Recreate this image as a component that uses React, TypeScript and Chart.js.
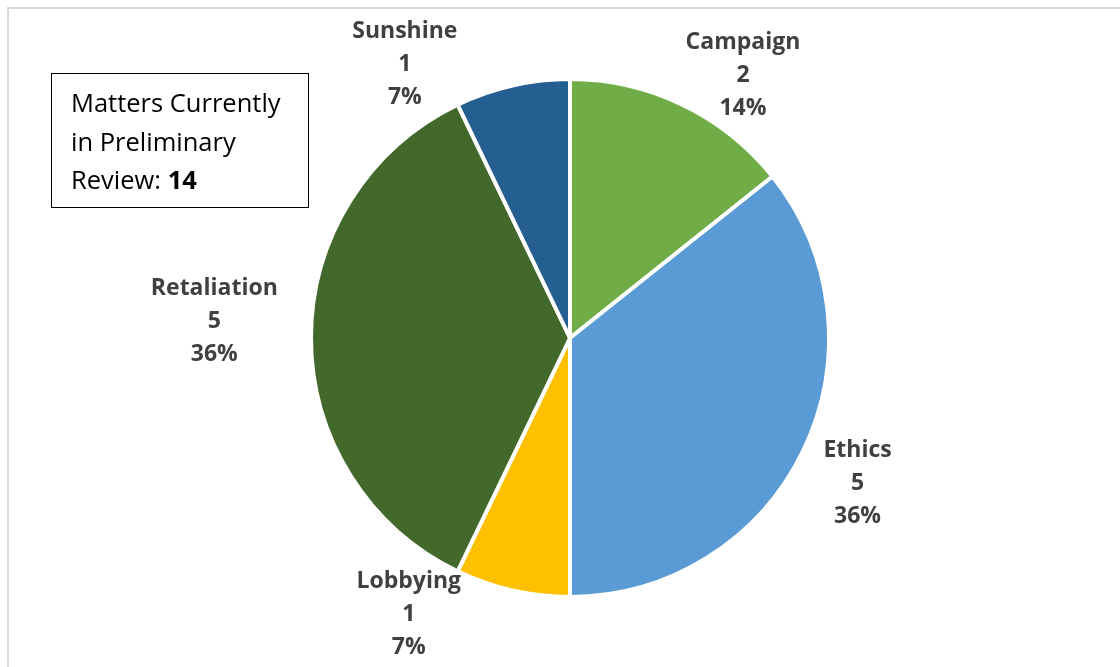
import React, { useEffect, useRef } from "react";
import { Chart, registerables } from "chart.js";

Chart.register(...registerables);

const categories = ["Campaign", "Ethics", "Lobbying", "Retaliation", "Sunshine"];
const counts = [2, 5, 1, 5, 1];
const colors = ["#70AD47", "#5B9BD5", "#FFC000", "#43682B", "#255E91"];
// label placement (Excel best-fit imitation): angle shift (deg) and radial factor
const labelAngleShift = [7.6, 1, 17.5, 2.9, -18.2];
const labelRadiusFactor = [1.216, 1.243, 1.232, 1.375, 1.236];
const totalLabel = "14";

const FONT = "'Open Sans', Lato, sans-serif";

const labelPlugin = {
  id: "pieLabels",
  afterDatasetsDraw(chart: any) {
    const ctx = chart.ctx;
    const meta = chart.getDatasetMeta(0);
    const data = chart.data.datasets[0].data as number[];
    const total = data.reduce((a, b) => a + b, 0);
    ctx.save();
    ctx.fillStyle = "#404040";
    ctx.font = `bold 23px ${FONT}`;
    ctx.textAlign = "center";
    ctx.textBaseline = "middle";
    meta.data.forEach((arc: any, i: number) => {
      const { x, y, startAngle, endAngle, outerRadius } = arc.getProps(
        ["x", "y", "startAngle", "endAngle", "outerRadius"],
        true
      );
      const mid = (startAngle + endAngle) / 2 + (labelAngleShift[i] * Math.PI) / 180;
      const r = outerRadius * labelRadiusFactor[i];
      const lx = x + Math.cos(mid) * r;
      const ly = y + Math.sin(mid) * r + 1;
      const pct = Math.round((data[i] / total) * 100) + "%";
      const lines = [chart.data.labels[i], String(data[i]), pct];
      const lh = 33;
      lines.forEach((t: string, k: number) => {
        ctx.fillText(t, lx, ly + (k - 1) * lh);
      });
    });
    ctx.restore();
  },
};

export default function App() {
  const ref = useRef<HTMLCanvasElement>(null);
  useEffect(() => {
    document.body.style.margin = "0";
    const chart = new Chart(ref.current!, {
      type: "pie",
      data: {
        labels: categories,
        datasets: [
          {
            data: counts,
            backgroundColor: colors,
            borderColor: "#ffffff",
            borderWidth: 4,
          },
        ],
      },
      options: {
        animation: false,
        responsive: false,
        layout: { padding: { left: 309, right: 289, top: 76, bottom: 67 } },
        plugins: {
          legend: { display: false },
          tooltip: { enabled: false },
        },
      },
      plugins: [labelPlugin],
    });
    return () => chart.destroy();
  }, []);

  return (
    <div style={{ position: "relative", width: 1120, height: 667, overflow: "hidden", background: "#fff" }}>
      <div
        style={{
          position: "absolute",
          left: 7,
          top: 7,
          width: 1120,
          height: 667,
          borderTop: "2px solid #d9d9d9",
          borderLeft: "2px solid #d9d9d9",
        }}
      />
      <canvas ref={ref} width={1120} height={667} style={{ position: "absolute", left: 0, top: 0 }} />
      <div
        style={{
          position: "absolute",
          left: 51,
          top: 73,
          width: 258,
          height: 135,
          boxSizing: "border-box",
          border: "1.5px solid #000",
          fontFamily: FONT,
          fontSize: 25.5,
          lineHeight: "38.5px",
          color: "#000",
          padding: "9px 0 0 19px",
          whiteSpace: "nowrap",
        }}
      >
        Matters Currently
        <br />
        in Preliminary
        <br />
        Review: <b>{totalLabel}</b>
      </div>
    </div>
  );
}
